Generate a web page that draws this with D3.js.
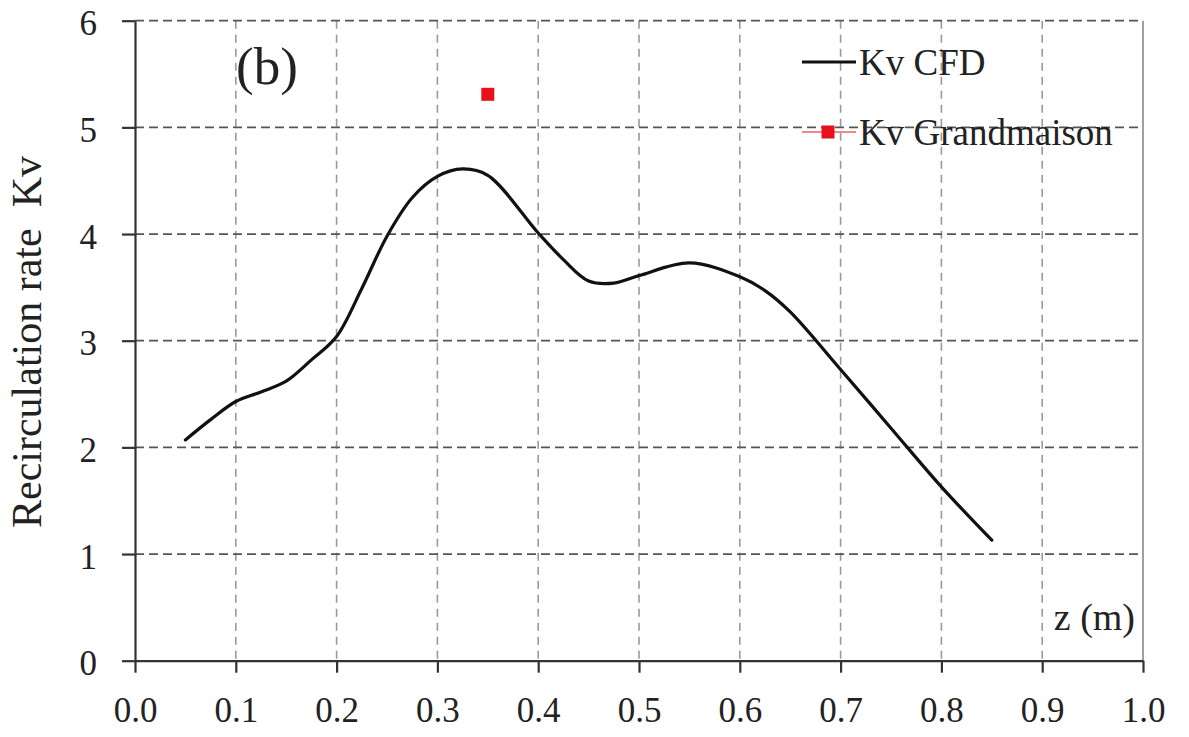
<!DOCTYPE html>
<html><head><meta charset="utf-8">
<script src="https://cdn.jsdelivr.net/npm/d3@7"></script>
<style>
body{margin:0;background:#fff}
svg{display:block}
text{font-family:"Liberation Serif","Times New Roman",serif;fill:#222}
</style>
</head><body>
<svg id="chart" width="1189" height="737"></svg>
<script>
// ---- data ----
const zValues = [0.05, 0.075, 0.10, 0.125, 0.15, 0.175, 0.20, 0.225, 0.25, 0.275, 0.30, 0.325, 0.35, 0.40, 0.425, 0.45, 0.475, 0.50, 0.55, 0.60, 0.625, 0.65, 0.70, 0.75, 0.80, 0.85];
const kvCFD   = [2.07, 2.26, 2.43, 2.52, 2.62, 2.82, 3.04, 3.49, 3.98, 4.34, 4.54, 4.61, 4.55, 4.01, 3.76, 3.56, 3.54, 3.61, 3.73, 3.60, 3.47, 3.27, 2.73, 2.18, 1.63, 1.13];
const grandmaisonZ  = [0.35];
const grandmaisonKv = [5.31];
const xTicks = [0.0, 0.1, 0.2, 0.3, 0.4, 0.5, 0.6, 0.7, 0.8, 0.9, 1.0];
const yTicks = [0, 1, 2, 3, 4, 5, 6];
const seriesNames = ["Kv CFD", "Kv Grandmaison"];
const yTitle = "Recirculation rate\u00a0\u00a0Kv";
const xTitle = "z (m)";
const panelLabel = "(b)";

// ---- layout ----
const svg = d3.select("#chart");
const L = 135, R = 1143, T = 20.7, B = 660.7;
const x = d3.scaleLinear().domain([0, 1]).range([L, R]);
const y = d3.scaleLinear().domain([0, 6]).range([B, T]);

// vertical grid (light gray dashed)
svg.append("g").selectAll("line")
  .data(xTicks.filter(d => d > 0 && d < 1))
  .join("line")
  .attr("x1", d => x(d)).attr("x2", d => x(d))
  .attr("y1", T).attr("y2", B)
  .attr("stroke", "#9a9a9a").attr("stroke-width", 1.6)
  .attr("stroke-dasharray", "8,6");

// horizontal grid (darker dashed)
svg.append("g").selectAll("line")
  .data(yTicks.filter(d => d > 0))
  .join("line")
  .attr("x1", L).attr("x2", R)
  .attr("y1", d => y(d)).attr("y2", d => y(d))
  .attr("stroke", "#555").attr("stroke-width", 1.8)
  .attr("stroke-dasharray", "9,5");

// right border
svg.append("line")
  .attr("x1", R).attr("x2", R).attr("y1", T).attr("y2", B)
  .attr("stroke", "#888").attr("stroke-width", 1.6);

// axes
const xAxis = d3.axisBottom(x).tickValues(xTicks).tickFormat(d3.format(".1f"))
  .tickSize(12).tickPadding(24).tickSizeOuter(0);
const gx = svg.append("g").attr("transform", `translate(0,${B})`).call(xAxis);
gx.select(".domain").attr("stroke", "#333").attr("stroke-width", 2.2);
gx.selectAll(".tick line").attr("stroke", "#333").attr("stroke-width", 2.2);
gx.selectAll(".tick text").attr("font-size", 35).attr("fill", "#222")
  .attr("font-family", "Liberation Serif, serif");

const yAxis = d3.axisLeft(y).tickValues(yTicks).tickFormat(d3.format("d"))
  .tickSize(13).tickPadding(25).tickSizeOuter(0);
const gy = svg.append("g").attr("transform", `translate(${L},0)`).call(yAxis);
gy.select(".domain").attr("stroke", "#333").attr("stroke-width", 2.2);
gy.selectAll(".tick line").attr("stroke", "#333").attr("stroke-width", 2.2);
gy.selectAll(".tick text").attr("font-size", 35).attr("fill", "#222")
  .attr("font-family", "Liberation Serif, serif").attr("dy", "0.4em");

// CFD curve
const cfd = zValues.map((z, i) => ({z, kv: kvCFD[i]}));
const line = d3.line().x(d => x(d.z)).y(d => y(d.kv)).curve(d3.curveCatmullRom.alpha(0.5));
svg.append("path").datum(cfd)
  .attr("d", line).attr("fill", "none")
  .attr("stroke", "#111").attr("stroke-width", 3.2)
  .attr("stroke-linejoin", "round").attr("stroke-linecap", "round");

// Grandmaison point
const gm = grandmaisonZ.map((z, i) => ({z, kv: grandmaisonKv[i]}));
const ms = 13;
svg.append("g").selectAll("rect").data(gm).join("rect")
  .attr("x", d => x(d.z) - ms / 2).attr("y", d => y(d.kv) - ms / 2)
  .attr("width", ms).attr("height", ms).attr("fill", "#e8101a");

// titles
svg.append("text")
  .attr("transform", "translate(41,342) rotate(-90)")
  .attr("text-anchor", "middle").attr("font-size", 42).text(yTitle);
svg.append("text")
  .attr("x", 1135).attr("y", 630).attr("text-anchor", "end")
  .attr("font-size", 38).text(xTitle);
svg.append("text")
  .attr("x", 236).attr("y", 84).attr("font-size", 53).text(panelLabel);

// legend
const leg = svg.append("g");
leg.append("line").attr("x1", 802).attr("x2", 856).attr("y1", 62).attr("y2", 62)
  .attr("stroke", "#111").attr("stroke-width", 3);
leg.append("text").attr("x", 859).attr("y", 75).attr("font-size", 37).text(seriesNames[0]);
leg.append("line").attr("x1", 802).attr("x2", 856).attr("y1", 132).attr("y2", 132)
  .attr("stroke", "#f08a8a").attr("stroke-width", 2);
leg.append("rect").attr("x", 828 - 6.5).attr("y", 132 - 6.5).attr("width", 13).attr("height", 13)
  .attr("fill", "#e8101a");
leg.append("text").attr("x", 859).attr("y", 145).attr("font-size", 37).text(seriesNames[1]);
</script>
</body></html>
